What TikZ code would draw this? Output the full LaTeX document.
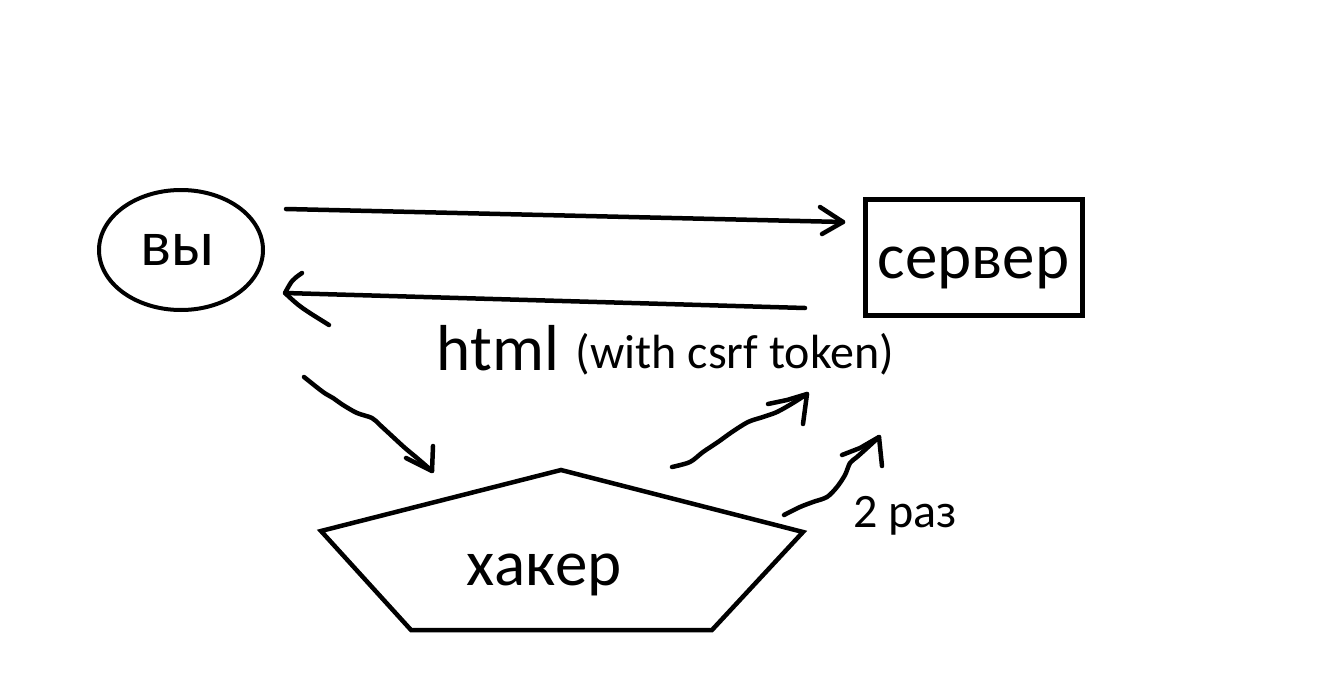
\documentclass[tikz,border=0pt]{standalone}
\usepackage{fontspec}
\setmainfont{Carlito}
\usetikzlibrary{shapes.geometric}
\begin{document}
\begin{tikzpicture}[x=1pt,y=-1pt,
  pen/.style={line width=4.5pt,line cap=round,line join=round},
  big/.style={font=\fontsize{65}{70}\selectfont,inner sep=0pt,anchor=base},
  small/.style={font=\fontsize{48}{52}\selectfont,inner sep=0pt,anchor=base}]
\useasboundingbox[fill=white] (0,0) rectangle (1317,698);
% shapes
\node[draw,ellipse,line width=4pt,minimum width=164pt,minimum height=120pt,inner sep=0pt] (you) at (181,250) {};
\node[draw,rectangle,line width=5pt,minimum width=217pt,minimum height=116pt,inner sep=0pt] (server) at (974,257.5) {};
\coordinate (pT) at (561,470);
\coordinate (pL) at (321,531);
\coordinate (pR) at (803,532);
\coordinate (pBL) at (411,630);
\coordinate (pBR) at (712,630);
\draw[line width=4.5pt,line join=miter] (pT) -- (pR) -- (pBR) -- (pBL) -- (pL) -- cycle;
% texts
\node[big] (tyou) at (178,265) {вы};
\node[big] (tserver) at (973.5,278) {сервер};
\node[big] (thacker) at (544,585) {хакер};
\node[big] (thtml) at (498,370) {html};
\node[small] (ttoken) at (735,368) {(with csrf token)};
\node[small] (ttwice) at (905,527) {2 раз};
% arrow 1: you -> server
\coordinate (a1s) at (286,209);
\coordinate (a1e) at (843,222);
\draw[pen] (a1s) -- (a1e);
\draw[pen] (820,207) -- (a1e) -- (822,234);
% arrow 2: server -> you
\coordinate (a2s) at (805,308);
\coordinate (a2e) at (285,293);
\draw[pen] (a2s) -- (a2e);
\draw[pen] (302,273) .. controls (292,280) .. (a2e) .. controls (300,307) .. (329,325);
% arrow 3: you -> hacker
\coordinate (a3s) at (304,377);
\coordinate (a3e) at (432,471);
\draw[pen] plot[smooth,tension=0.5] coordinates {(a3s) (323,392) (333,398) (343,405) (357,413) (372,418) (380,425) (393,437) (405,448) (417,458) (a3e)};
\draw[pen] (406,458) -- (a3e) -- (433,446);
% arrow 4: hacker -> html
\coordinate (a4s) at (672,467);
\coordinate (a4e) at (807,394);
\draw[pen] plot[smooth,tension=0.5] coordinates {(a4s) (690,462) (703,452) (718,442) (732,432) (748,422) (763,417) (777,412) (793,403) (a4e)};
\draw[pen] (768,404) -- (787,400) -- (a4e) -- (803,424);
% arrow 5: hacker -> server, 2 раз
\coordinate (a5s) at (784,515);
\coordinate (a5e) at (879,437);
\draw[pen] plot[smooth,tension=0.5] coordinates {(a5s) (800,507) (813,502) (827,497) (837,487) (845,475) (850,463) (857,457) (867,448) (a5e)};
\draw[pen] (842,455) -- (860,448) -- (a5e) -- (882,466);
\end{tikzpicture}
\end{document}
